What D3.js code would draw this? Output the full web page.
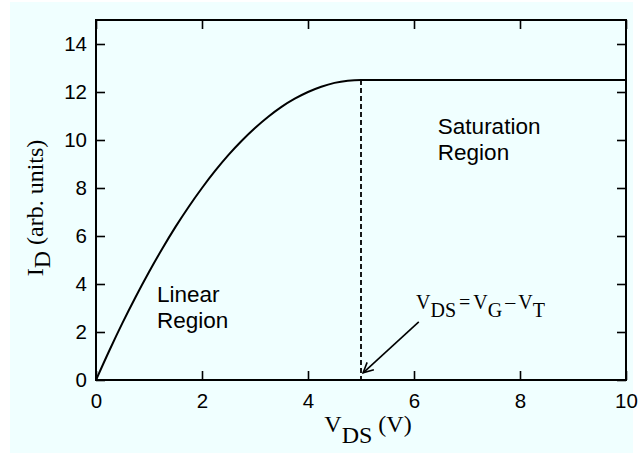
<!DOCTYPE html>
<html>
<head>
<meta charset="utf-8">
<script src="https://cdn.jsdelivr.net/npm/d3@7"></script>
<style>
  html, body { margin: 0; padding: 0; background: #ffffff; }
  svg { display: block; }
  .sans { font-family: "Liberation Sans", Arial, Helvetica, sans-serif; }
  .serif { font-family: "Liberation Serif", "Times New Roman", Times, serif; }
</style>
</head>
<body>
<svg id="chart" width="643" height="455"></svg>
<script>
// Drain current I_D versus drain-source voltage V_DS
const vds = [0, 0.25, 0.5, 0.75, 1, 1.25, 1.5, 1.75, 2, 2.25, 2.5, 2.75, 3, 3.25, 3.5,
             3.75, 4, 4.25, 4.5, 4.75, 5, 6, 7, 8, 9, 10];
const id  = [0, 1.22, 2.38, 3.47, 4.5, 5.47, 6.38, 7.22, 8.0, 8.72, 9.38, 9.97, 10.5, 10.97, 11.38,
             11.72, 12.0, 12.22, 12.38, 12.47, 12.5, 12.5, 12.5, 12.5, 12.5, 12.5];

// Pinch-off voltage where the linear region meets saturation
const pinchOff = 5;
const pinchCurrent = 12.5;

const xTicks = [0, 2, 4, 6, 8, 10];
const yTicks = [0, 2, 4, 6, 8, 10, 12, 14];

const svg = d3.select("#chart");

const margin = { left: 96, right: 17, top: 20, bottom: 75 };
const W = 643, H = 455;
const plotW = W - margin.left - margin.right;
const plotH = H - margin.top - margin.bottom;

// page background panel
svg.append("rect")
  .attr("x", 10).attr("y", 2)
  .attr("width", 623).attr("height", 451)
  .attr("fill", "#f0ffff");

const x = d3.scaleLinear().domain([0, 10]).range([margin.left, margin.left + plotW]);
const y = d3.scaleLinear().domain([0, 15]).range([margin.top + plotH, margin.top]);

const tick = 9;

// bottom axis with labels, ticks pointing inward
const gx = svg.append("g")
  .attr("transform", `translate(0,${y(0)})`)
  .call(d3.axisBottom(x).tickValues(xTicks).tickSize(-tick).tickPadding(13).tickFormat(d3.format("d")));
// left axis with labels
const gy = svg.append("g")
  .attr("transform", `translate(${x(0)},0)`)
  .call(d3.axisLeft(y).tickValues(yTicks).tickSize(-tick).tickPadding(9).tickFormat(d3.format("d")));
// mirrored ticks on top and right
const gt = svg.append("g")
  .attr("transform", `translate(0,${y(15)})`)
  .call(d3.axisTop(x).tickValues(xTicks).tickSize(-tick).tickFormat(""));
const gr = svg.append("g")
  .attr("transform", `translate(${x(10)},0)`)
  .call(d3.axisRight(y).tickValues(yTicks).tickSize(-tick).tickFormat(""));

[gx, gy, gt, gr].forEach(g => {
  g.select(".domain").remove();
  g.selectAll(".tick line").attr("stroke", "#000").attr("stroke-width", 1.6);
  g.selectAll(".tick text")
    .attr("class", "sans")
    .attr("fill", "#000")
    .style("font-size", "20.5px")
    .style("font-family", '"Liberation Sans", Arial, Helvetica, sans-serif');
});

// plot frame
svg.append("rect")
  .attr("x", x(0)).attr("y", y(15))
  .attr("width", x(10) - x(0)).attr("height", y(0) - y(15))
  .attr("fill", "none").attr("stroke", "#000").attr("stroke-width", 2);

// characteristic curve
const pts = vds.map((v, i) => [v, id[i]]);
svg.append("path")
  .datum(pts)
  .attr("fill", "none")
  .attr("stroke", "#000")
  .attr("stroke-width", 2)
  .attr("d", d3.line().x(d => x(d[0])).y(d => y(d[1])).curve(d3.curveMonotoneX));

// boundary between regions
svg.append("line")
  .attr("x1", x(pinchOff)).attr("x2", x(pinchOff))
  .attr("y1", y(pinchCurrent)).attr("y2", y(0))
  .attr("stroke", "#000").attr("stroke-width", 1.8)
  .attr("stroke-dasharray", "5,3");

// region labels
const regionText = (lines, vx, vy) => {
  const t = svg.append("text")
    .attr("class", "sans")
    .attr("x", x(vx)).attr("y", y(vy))
    .style("font-size", "22.5px")
    .attr("fill", "#000");
  lines.forEach((s, i) => {
    t.append("tspan").attr("x", x(vx)).attr("dy", i === 0 ? 0 : 26).text(s);
  });
};
regionText(["Saturation", "Region"], 6.45, 10.25);
regionText(["Linear", "Region"], 1.15, 3.26);

// annotation arrow pointing at the pinch-off point on the axis
const defs = svg.append("defs");
defs.append("marker")
  .attr("id", "openArrow")
  .attr("viewBox", "0 0 12 12")
  .attr("refX", 11).attr("refY", 6)
  .attr("markerWidth", 12).attr("markerHeight", 12)
  .attr("markerUnits", "userSpaceOnUse")
  .attr("orient", "auto")
  .append("path")
  .attr("d", "M1,1 L11,6 L1,11")
  .attr("fill", "none").attr("stroke", "#000").attr("stroke-width", 1.6);

svg.append("line")
  .attr("x1", x(6.09)).attr("y1", y(2.42))
  .attr("x2", x(5.04)).attr("y2", y(0.3))
  .attr("stroke", "#000").attr("stroke-width", 1.6)
  .attr("marker-end", "url(#openArrow)");

// V_DS = V_G - V_T
const ann = svg.append("text")
  .attr("class", "serif")
  .attr("x", 416).attr("y", y(2.95))
  .style("font-size", "20px")
  .attr("fill", "#000");
ann.append("tspan").text("V");
ann.append("tspan").attr("dy", 8).text("DS");
ann.append("tspan").attr("dy", -8).attr("dx", 3).text("=");
ann.append("tspan").attr("dx", 3).text("V");
ann.append("tspan").attr("dy", 8).text("G");
ann.append("tspan").attr("dy", -8).attr("dx", 3).text("\u2013");
ann.append("tspan").attr("dx", 3).text("V");
ann.append("tspan").attr("dy", 8).text("T");

// axis titles
const xl = svg.append("text")
  .attr("class", "serif")
  .attr("x", (x(0) + x(10)) / 2 + 7).attr("y", 432)
  .attr("text-anchor", "middle")
  .style("font-size", "24px")
  .attr("fill", "#000");
xl.append("tspan").text("V");
xl.append("tspan").attr("dy", 11).text("DS");
xl.append("tspan").attr("dy", -11).text(" (V)");

const yl = svg.append("text")
  .attr("class", "serif")
  .attr("transform", `translate(43,${(y(0) + y(15)) / 2 + 8}) rotate(-90)`)
  .attr("text-anchor", "middle")
  .style("font-size", "24px")
  .attr("fill", "#000");
yl.append("tspan").text("I");
yl.append("tspan").attr("dy", 7).text("D");
yl.append("tspan").attr("dy", -7).text(" (arb. units)");
</script>
</body>
</html>
